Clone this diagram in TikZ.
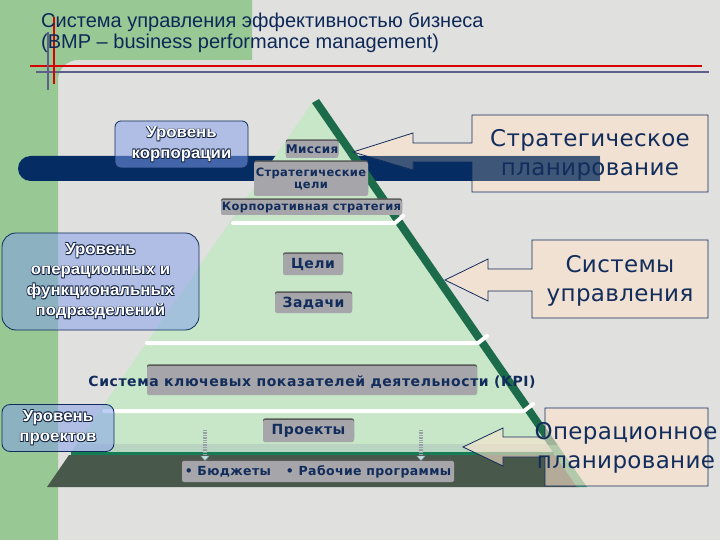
\documentclass[tikz,border=0pt]{standalone}
\usepackage{fontspec}
\setmainfont{DejaVu Sans}
\newfontfamily\titlefont{Liberation Sans}
\newfontfamily\lvlfont[FakeStretch=1.05]{Liberation Sans}
\usetikzlibrary{shadows, arrows.meta}

\definecolor{bggray}{RGB}{224,224,222}
\definecolor{stripgreen}{RGB}{152,200,148}
\definecolor{rulegray}{RGB}{95,95,140}
\definecolor{titleblue}{RGB}{14,40,88}
\definecolor{txtnavy}{RGB}{18,45,92}
\definecolor{barnavy}{RGB}{5,45,100}
\definecolor{barmix}{RGB}{62,86,120}
\definecolor{pyrgreen}{RGB}{200,230,200}
\definecolor{pyrshade}{RGB}{186,212,194}
\definecolor{edgegreen}{RGB}{28,108,76}
\definecolor{bandline}{RGB}{22,124,86}
\definecolor{bandgray}{RGB}{72,88,74}
\definecolor{bandedge}{RGB}{72,165,120}
\definecolor{lvlblue}{RGB}{130,158,238}
\definecolor{lvlshadow}{RGB}{20,36,66}
\definecolor{peach}{RGB}{251,227,204}
\definecolor{boxgray}{RGB}{165,165,170}
\definecolor{arrowgray}{RGB}{150,162,165}
\definecolor{arrowtip}{RGB}{190,225,228}

\newcommand{\shadowed}[1]{\leavevmode
  \rlap{\kern0.8bp\raisebox{-0.8bp}{\textcolor{lvlshadow}{#1}}}%
  \rlap{\kern-0.6bp\raisebox{0.6bp}{\textcolor{lvlshadow}{#1}}}%
  \rlap{\kern0.7bp\raisebox{0.6bp}{\textcolor{lvlshadow}{#1}}}%
  \rlap{\kern-0.6bp\raisebox{-0.7bp}{\textcolor{lvlshadow}{#1}}}#1}

\tikzset{
  titletext/.style={text=titleblue, font=\titlefont\fontsize{20bp}{20bp}\selectfont, inner sep=0},
  lvlbox/.style={draw=txtnavy, line width=0.8bp, fill=lvlblue, fill opacity=0.5, text opacity=1, rounded corners=#1, inner sep=0},
  lvltext/.style={text=white, font=\lvlfont\bfseries\fontsize{16bp}{20.5bp}\selectfont, align=center},
  graybox/.style={fill=boxgray, rounded corners=2bp, inner sep=0, drop shadow={shadow xshift=0bp, shadow yshift=1.6bp, fill=black!65, opacity=1}},
  graytext/.style={text=txtnavy, font=\bfseries\fontsize{#1}{#1+1.5bp}\selectfont\addfontfeature{LetterSpace=3}, align=center},
  kpitext/.style={text=txtnavy, font=\bfseries\fontsize{14bp}{15.5bp}\selectfont\addfontfeature{LetterSpace=4}, inner sep=0},
  plantext/.style={text=txtnavy, font=\fontsize{23bp}{29bp}\selectfont\addfontfeature{LetterSpace=1.5}, align=center},
  sepline/.style={white, line width=4bp, line cap=round, line join=round},
  dotarrow/.style={draw=arrowgray, line width=4bp, dash pattern=on 1.3bp off 1.1bp, -{Triangle[width=9bp, length=5bp, fill=arrowtip, color=arrowgray, line width=0.4bp]}}
}

\begin{document}
\begin{tikzpicture}[x=1bp, y=-1bp]
  \useasboundingbox (0,0) rectangle (720,540);
  \fill[bggray] (0,0) rectangle (720,540);
  \fill[stripgreen] (0,0) -- (252,0) -- (252,60) -- (78,60) arc[start angle=270, end angle=180, radius=20] -- (58,540) -- (0,540) -- cycle;

  \draw[red!85!black, line width=1.2bp] (30,66) -- (702,66);
  \draw[rulegray, line width=1.2bp] (36,72) -- (709,72);
  \draw[red!85!black, line width=1.2bp] (54,17) -- (54,84);
  \draw[rulegray, line width=1.2bp] (48,32) -- (48,90);

  \node[titletext, anchor=base west] (title1) at (41,28) {Система управления эффективностью бизнеса};
  \node[titletext, anchor=base west] (title2) at (41,49) {(BMP – business performance management)};

  % corporate bar
  \fill[barnavy] (600,156) -- (30.5,156) arc[start angle=270, end angle=90, radius=12.5] -- (600,181) -- cycle;

  % pyramid
  \coordinate (apex) at (312,103);
  \coordinate (lbase) at (70.5,453);
  \coordinate (rbase) at (553.5,453);
  \fill[pyrgreen] (apex) -- (lbase) -- (rbase) -- cycle;
  \fill[pyrshade] (76.7,444) -- (71.2,452) -- (552.8,452) -- (547.3,444) -- cycle;
  \fill[edgegreen] (apex) -- (319,99) -- (557.7,445) -- (548,445) -- cycle;
  \fill[bandgray] (69,455) -- (47,487) -- (578,487) -- (555,455) -- cycle;
  \fill[bandedge] (548,445) -- (557.7,445) -- (587,487) -- (577,487) -- cycle;
  \draw[bandline, line width=3bp] (70.5,453.5) -- (554,453.5);

  \draw[sepline] (233,223) -- (395,223) -- (403,216);
  \draw[sepline] (147,343) -- (478,343) -- (487,336);
  \draw[sepline] (104,411) -- (524,411) -- (533,404);

  \node[graybox, minimum width=49bp, minimum height=17bp, graytext=12bp] (mission) at (312,149.5) {Миссия};
  \node[graybox, minimum width=114bp, minimum height=34bp, graytext=11.5bp] (stratgoals) at (311,179) {Стратегические\\цели};
  \node[graybox, minimum width=181bp, minimum height=15bp, graytext=11.5bp] (corpstrat) at (311.5,207.5) {Корпоративная стратегия};
  \node[graybox, minimum width=60bp, minimum height=21bp, graytext=14bp] (goals) at (313,264.5) {Цели};
  \node[graybox, minimum width=77bp, minimum height=20bp, graytext=14bp] (tasks) at (313.5,303) {Задачи};
  \node[graybox, minimum width=330bp, minimum height=29bp] (kpibox) at (312,380.5) {};
  \node[kpitext] (kpi) at ([yshift=-1.5bp]kpibox.center) {Система ключевых показателей деятельности (KPI)};
  \node[graybox, minimum width=91bp, minimum height=22bp, graytext=14bp] (projects) at (308.5,431) {Проекты};
  \node[graybox, minimum width=272bp, minimum height=21bp, graytext=12.5bp] (budget) at (318,471.5) {• Бюджеты\hspace*{15bp}• Рабочие программы};

  \coordinate (bud1) at (205,430);
  \coordinate (bud2) at (421,430);
  \draw[dotarrow] (bud1) -- (bud1 |- budget.north);
  \draw[dotarrow] (bud2) -- (bud2 |- budget.north);

  % levels
  \node[lvlbox=6bp, minimum width=133bp, minimum height=47bp, lvltext] (lvlcorp) at (181.5,144.5) {\shadowed{Уровень}\\\shadowed{корпорации}};
  \node[lvlbox=14bp, minimum width=197bp, minimum height=97bp, lvltext] (lvlops) at (100.5,281.5) {\shadowed{Уровень}\\\shadowed{операционных и}\\\shadowed{функциональных}\\\shadowed{подразделений}};
  \node[lvlbox=8bp, minimum width=112bp, minimum height=47bp, lvltext] (lvlproj) at (58,428) {\shadowed{Уровень}\\\shadowed{проектов}};

  % planning callouts
  \def\stratshape{(472,115) -- (708,115) -- (708,192) -- (472,192) -- (472,162) -- (413,162) -- (413,170) -- (353,152) -- (413,133) -- (413,143) -- (472,143) -- cycle}
  \def\sysshape{(532,240) -- (708,240) -- (708,318) -- (532,318) -- (532,291) -- (488,291) -- (488,301) -- (445,280) -- (488,259) -- (488,269) -- (532,269) -- cycle}
  \def\opershape{(545,408) -- (708,408) -- (708,486) -- (545,486) -- (545,457) -- (503,457) -- (503,466) -- (463,447) -- (503,428) -- (503,437) -- (545,437) -- cycle}

  \fill[peach, fill opacity=0.65] \stratshape;
  \begin{scope}
    \clip \stratshape;
    \fill[barmix] (300,156) rectangle (600,181);
  \end{scope}
  \draw[txtnavy, line width=0.8bp] \stratshape;
  \node[plantext] (strat) at (590,155) {Стратегическое\\планирование};

  \fill[peach, fill opacity=0.65] \sysshape;
  \draw[txtnavy, line width=0.8bp] \sysshape;
  \node[plantext] (sys) at (620,281) {Системы\\управления};

  \fill[peach, fill opacity=0.6] \opershape;
  \draw[txtnavy, line width=0.8bp] \opershape;
  \node[plantext] (oper) at (626,448) {Операционное\\планирование};
\end{tikzpicture}
\end{document}
